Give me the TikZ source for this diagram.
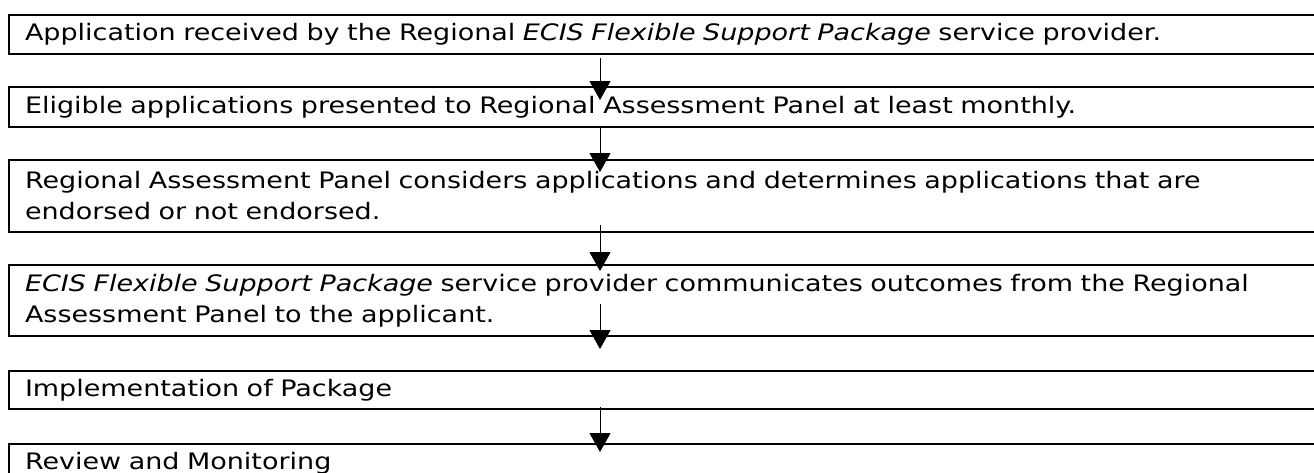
\documentclass[tikz,border=0pt]{standalone}
\usepackage{fontspec}
\setmainfont{DejaVu Sans}[FakeStretch=1.19]
\usetikzlibrary{arrows.meta,calc}

\begin{document}
\begin{tikzpicture}[x=0.75pt,y=0.75pt,yscale=-1,xscale=1,
  stepbox/.style={draw,line width=1.5pt,anchor=north west,inner xsep=12pt,inner ysep=0pt,
    text width=967.5pt,align=left,font=\fontsize{17}{23.25}\selectfont},
  flow/.style={line width=0.75pt,-{Triangle[length=14.25pt,width=15.75pt]}}]
\useasboundingbox (0,0) rectangle (1314,472);
\clip (0,0) rectangle (1314,472);

%Shape: Rectangle [steps]
\node[stepbox,minimum height=29pt] (recv) at (8,14) {Application received by the Regional \textit{ECIS Flexible Support Package} service provider.};
\node[stepbox,minimum height=30pt] (elig) at (8,86) {Eligible applications presented to Regional Assessment Panel at least monthly.};
\node[stepbox,minimum height=54pt] (panel) at (8,159) {Regional Assessment Panel considers applications and determines applications that are\\endorsed or not endorsed.};
\node[stepbox,minimum height=53.25pt] (comm) at (8,264) {\textit{ECIS Flexible Support Package} service provider communicates outcomes from the Regional\\Assessment Panel to the applicant.};
\node[stepbox,minimum height=28.5pt] (impl) at (8,370) {Implementation of Package};
\node[stepbox,minimum height=28.5pt] (review) at (8,443) {Review and Monitoring};

%Straight Lines [arrows]
\coordinate (axis) at (600,0);
\draw[flow] ($(recv.south -| axis)+(0,3)$) -- ($(elig.north -| axis)+(0,14)$);
\draw[flow] ($(elig.south -| axis)+(0,-1)$) -- ($(panel.north -| axis)+(0,13)$);
\draw[flow] ($(panel.south -| axis)+(0,-8)$) -- ($(comm.north -| axis)+(0,7)$);
\draw[flow] ($(comm.south -| axis)+(0,-33)$) -- ($(impl.north -| axis)+(0,-21)$);
\draw[flow] ($(impl.south -| axis)+(0,-3)$) -- ($(review.north -| axis)+(0,9)$);

\end{tikzpicture}
\end{document}
